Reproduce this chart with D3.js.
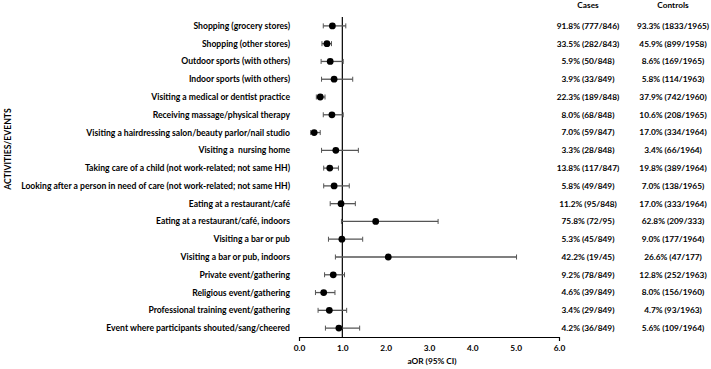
<!DOCTYPE html>
<html>
<head>
<meta charset="utf-8">
<script src="https://cdn.jsdelivr.net/npm/d3@7"></script>
<style>
  body { margin: 0; background: #fff; }
  svg text { font-family: Lato, "Liberation Sans Narrow", "DejaVu Sans Condensed", sans-serif; font-weight: bold; fill: #000; white-space: pre; }
</style>
</head>
<body>
<div id="chart"></div>
<script>
// Activities / events (top to bottom)
const categories = [
  'Shopping (grocery stores)',
  'Shopping (other stores)',
  'Outdoor sports (with others)',
  'Indoor sports (with others)',
  'Visiting a medical or dentist practice',
  'Receiving massage/physical therapy',
  'Visiting a hairdressing salon/beauty parlor/nail studio',
  'Visiting a  nursing home',
  'Taking care of a child (not work-related; not same HH)',
  'Looking after a person in need of care (not work-related; not same HH)',
  'Eating at a restaurant/café',
  'Eating at a restaurant/café, indoors',
  'Visiting a bar or pub',
  'Visiting a bar or pub, indoors',
  'Private event/gathering',
  'Religious event/gathering',
  'Professional training event/gathering',
  'Event where participants shouted/sang/cheered'
];

// Adjusted odds ratios and 95% CI
const aor    = [0.77, 0.645, 0.72, 0.81, 0.49, 0.76, 0.35, 0.85, 0.71, 0.81, 0.97, 1.77, 0.99, 2.06, 0.79, 0.57, 0.70, 0.92];
const ciLow  = [0.56, 0.53, 0.51, 0.52, 0.40, 0.56, 0.27, 0.52, 0.57, 0.57, 0.72, 0.98, 0.68, 0.84, 0.59, 0.38, 0.44, 0.61];
const ciHigh = [1.08, 0.75, 1.02, 1.24, 0.60, 1.02, 0.49, 1.37, 0.91, 1.16, 1.30, 3.21, 1.47, 5.02, 1.05, 0.83, 1.10, 1.40];

// Exposure proportions
const cases = [
  '91.8% (777/846)', '33.5% (282/843)', '5.9% (50/848)', '3.9% (33/849)',
  '22.3% (189/848)', '8.0% (68/848)', '7.0% (59/847)', '3.3% (28/848)',
  '13.8% (117/847)', '5.8% (49/849)', '11.2% (95/848)', '75.8% (72/95)',
  '5.3% (45/849)', '42.2% (19/45)', '9.2% (78/849)', '4.6% (39/849)',
  '3.4% (29/849)', '4.2% (36/849)'
];
const controls = [
  '93.3% (1833/1965)', '45.9% (899/1958)', '8.6% (169/1965)', '5.8% (114/1963)',
  '37.9% (742/1960)', '10.6% (208/1965)', '17.0% (334/1964)', '3.4% (66/1964)',
  '19.8% (389/1964)', '7.0% (138/1965)', '17.0% (333/1964)', '62.8% (209/333)',
  '9.0% (177/1964)', '26.6% (47/177)', '12.8% (252/1963)', '8.0% (156/1960)',
  '4.7% (93/1963)', '5.6% (109/1964)'
];

const xTicks = [0, 1, 2, 3, 4, 5, 6];

const width = 711, height = 369;
const plot = { left: 299, right: 559, top: 17, bottom: 337 };
const labelSize = '8.6px';
const numSize = '8.3px';

const svg = d3.select('#chart').append('svg')
  .attr('width', width)
  .attr('height', height);

const rows = categories.map((c, i) => ({
  label: c, aor: aor[i], lo: ciLow[i], hi: ciHigh[i], cases: cases[i], controls: controls[i]
}));

// Scales
const x = d3.scaleLinear().domain([0, 6]).range([plot.left, plot.right]);
const y = d3.scalePoint().domain(categories).range([plot.top, plot.bottom]).padding(0.5);

// x axis
const xAxis = svg.append('g')
  .attr('transform', `translate(0,${plot.bottom})`)
  .call(d3.axisBottom(x)
    .tickValues(xTicks)
    .tickFormat(d3.format('.1f'))
    .tickSizeInner(0)
    .tickSizeOuter(4)
    .tickPadding(8));
xAxis.select('.domain').attr('stroke', '#000').attr('stroke-width', 1.2);
xAxis.selectAll('text').style('font-size', numSize);

// reference line at aOR = 1
svg.append('line')
  .attr('x1', x(1)).attr('x2', x(1))
  .attr('y1', plot.top).attr('y2', plot.bottom)
  .attr('stroke', '#000')
  .attr('stroke-width', 1.2);

// CI whiskers
const g = svg.append('g');
const capH = 2.5;
g.selectAll('line.ci')
  .data(rows)
  .enter()
  .append('line')
  .attr('class', 'ci')
  .attr('x1', d => x(d.lo)).attr('x2', d => x(d.hi))
  .attr('y1', d => y(d.label)).attr('y2', d => y(d.label))
  .attr('stroke', '#555').attr('stroke-width', 1.3);

['lo', 'hi'].forEach(k => {
  g.selectAll(`line.cap-${k}`)
    .data(rows)
    .enter()
    .append('line')
    .attr('class', `cap-${k}`)
    .attr('x1', d => x(d[k])).attr('x2', d => x(d[k]))
    .attr('y1', d => y(d.label) - capH).attr('y2', d => y(d.label) + capH)
    .attr('stroke', '#555').attr('stroke-width', 1);
});

// point estimates
g.selectAll('circle')
  .data(rows)
  .enter()
  .append('circle')
  .attr('cx', d => x(d.aor))
  .attr('cy', d => y(d.label))
  .attr('r', 3.4)
  .attr('fill', '#000');

// row labels
svg.selectAll('text.label')
  .data(rows)
  .enter()
  .append('text')
  .attr('class', 'label')
  .attr('x', 290)
  .attr('y', d => y(d.label))
  .attr('dy', '0.35em')
  .attr('text-anchor', 'end')
  .style('font-size', labelSize)
  .text(d => d.label);

// cases / controls columns
const cols = [
  { key: 'cases', title: 'Cases', cx: 588 },
  { key: 'controls', title: 'Controls', cx: 673 }
];
cols.forEach(c => {
  svg.append('text')
    .attr('x', c.cx).attr('y', 5)
    .attr('dy', '0.35em')
    .attr('text-anchor', 'middle')
    .style('font-size', numSize)
    .text(c.title);

  svg.selectAll(`text.${c.key}`)
    .data(rows)
    .enter()
    .append('text')
    .attr('class', c.key)
    .attr('x', c.cx)
    .attr('y', d => y(d.label))
    .attr('dy', '0.35em')
    .attr('text-anchor', 'middle')
    .style('font-size', numSize)
    .text(d => d[c.key]);
});

// axis titles
svg.append('text')
  .attr('x', 432).attr('y', 361)
  .attr('dy', '0.35em')
  .attr('text-anchor', 'middle')
  .style('font-size', numSize)
  .text('aOR (95% CI)');

svg.append('text')
  .attr('transform', 'translate(8,149) rotate(-90)')
  .attr('dy', '0.35em')
  .attr('text-anchor', 'middle')
  .style('font-size', labelSize)
  .text('ACTIVITIES/EVENTS');
</script>
</body>
</html>
